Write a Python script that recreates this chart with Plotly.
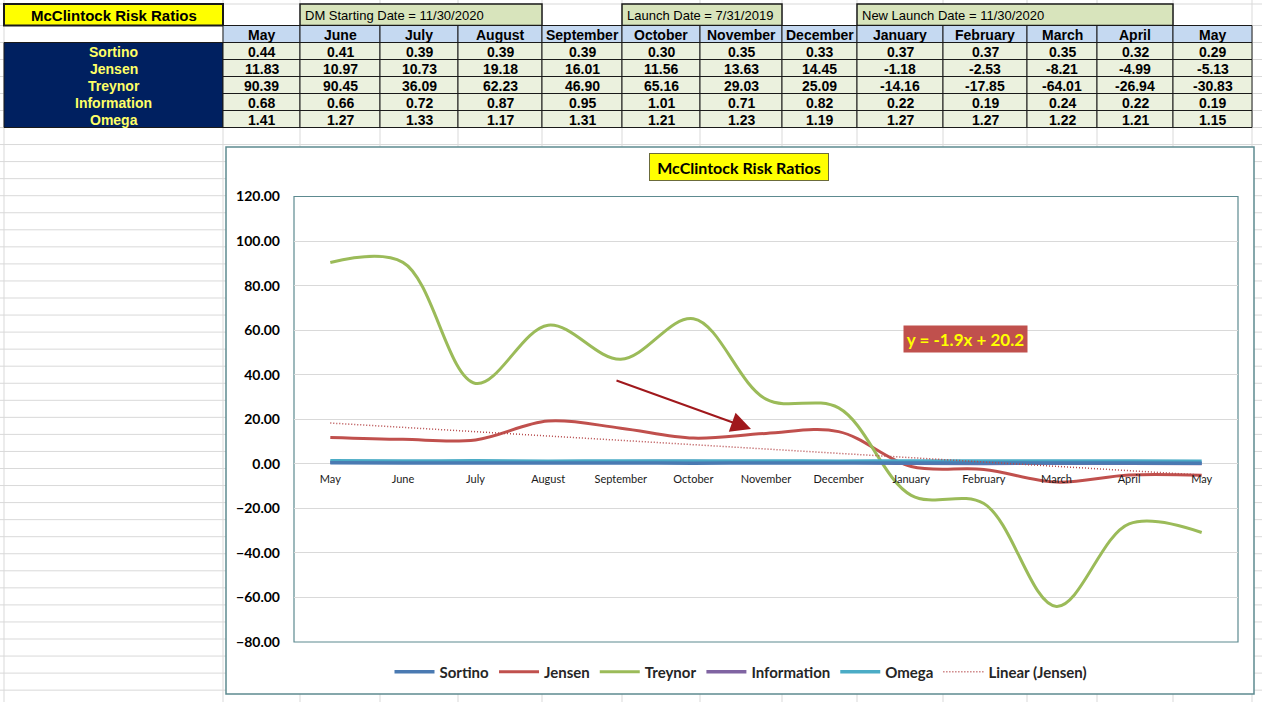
import numpy as np
import plotly.graph_objects as go

# ---- data ----
months = ["May", "June", "July", "August", "September", "October", "November",
          "December", "January", "February", "March", "April", "May"]
sortino = [0.44, 0.41, 0.39, 0.39, 0.39, 0.30, 0.35, 0.33, 0.37, 0.37, 0.35, 0.32, 0.29]
jensen = [11.83, 10.97, 10.73, 19.18, 16.01, 11.56, 13.63, 14.45, -1.18, -2.53, -8.21, -4.99, -5.13]
treynor = [90.39, 90.45, 36.09, 62.23, 46.90, 65.16, 29.03, 25.09, -14.16, -17.85, -64.01, -26.94, -30.83]
information = [0.68, 0.66, 0.72, 0.87, 0.95, 1.01, 0.71, 0.82, 0.22, 0.19, 0.24, 0.22, 0.19]
omega = [1.41, 1.27, 1.33, 1.17, 1.31, 1.21, 1.23, 1.19, 1.27, 1.27, 1.22, 1.21, 1.15]
ratio_names = ["Sortino", "Jensen", "Treynor", "Information", "Omega"]
sheet_title = "McClintock Risk Ratios"
date_notes = ["DM Starting Date = 11/30/2020", "Launch Date = 7/31/2019",
              "New Launch Date = 11/30/2020"]
trend_label = "y = -1.9x + 20.2"

ratio_values = [sortino, jensen, treynor, information, omega]
series_colors = ["#4A7AB2", "#C0504D", "#9BBB59", "#8064A2", "#4BACC6"]
series_widths = [3.5, 3, 3, 3.5, 3.5]
draw_order = [1, 2, 3, 4, 0]   # small ratios end up on top, Sortino last like the sheet

# ---- page geometry (pixels) ----
W, H = 1262, 702
def fx(v):
    return v / W
def fy(v):
    return 1 - v / H

col_edges = [223, 300, 380, 458, 542, 622, 700, 782, 857, 943, 1027, 1097, 1173, 1252]
row_edges = [4, 25.5, 42.5, 59.5, 76.5, 93.5, 110.5, 127.5]
note_spans = [(1, 3), (5, 6), (8, 11)]   # which month columns each date box covers

sheet_font = "Liberation Sans Narrow, Arial Narrow, Liberation Sans, sans-serif"
cal = "Lato, Carlito, Calibri, sans-serif"
grid_col = "#D9D9D9"
frame_col = "#5D8A90"

shapes = []
annotations = []

# spreadsheet gridlines in the background
sheet_rows = row_edges + [127.5 + 17.05 * k for k in range(1, 35)]
for yy in sheet_rows:
    shapes.append(dict(type="line", xref="paper", yref="paper", x0=0, x1=1,
                       y0=fy(yy), y1=fy(yy), line=dict(color=grid_col, width=1), layer="below"))
for xx in [4] + col_edges:
    shapes.append(dict(type="line", xref="paper", yref="paper", x0=fx(xx), x1=fx(xx),
                       y0=0, y1=1, line=dict(color=grid_col, width=1), layer="below"))

def cell(x0, x1, y0, y1, fill, lw=1, lc="#1A1A1A"):
    shapes.append(dict(type="rect", xref="paper", yref="paper", x0=fx(x0), x1=fx(x1),
                       y0=fy(y1), y1=fy(y0), fillcolor=fill,
                       line=dict(color=lc, width=lw), layer="below"))

def text(x, y, s, size, color="#000000", family=sheet_font, bold=True, xanchor="center"):
    annotations.append(dict(x=fx(x), y=fy(y), xref="paper", yref="paper", text=s,
                            showarrow=False, xanchor=xanchor, yanchor="middle",
                            font=dict(family=family, size=size, color=color,
                                      weight="bold" if bold else "normal")))

# title cell
cell(4, col_edges[0], row_edges[0], row_edges[1], "#FFFF00", lw=2)
text((4 + col_edges[0]) / 2, (row_edges[0] + row_edges[1]) / 2 + 1, sheet_title, 15,
     family="Liberation Sans, Arial, sans-serif")

# date boxes
for note, (c0, c1) in zip(date_notes, note_spans):
    cell(col_edges[c0], col_edges[c1 + 1], row_edges[0], row_edges[1], "#D8E4BC", lw=1.5)
    text(col_edges[c0] + 3, (row_edges[0] + row_edges[1]) / 2 + 1, note, 13,
         bold=False, xanchor="left")

# month header row
for i, m in enumerate(months):
    x0, x1 = col_edges[i], col_edges[i + 1]
    cell(x0, x1, row_edges[1], row_edges[2], "#C5D9F1")
    text((x0 + x1) / 2, (row_edges[1] + row_edges[2]) / 2 + 1, m, 14)

# ratio name block
cell(4, col_edges[0], row_edges[2], row_edges[-1], "#002060", lw=1)
for r, (name, vals) in enumerate(zip(ratio_names, ratio_values)):
    y0, y1 = row_edges[r + 2], row_edges[r + 3]
    text((4 + col_edges[0]) / 2, (y0 + y1) / 2 + 1, name, 14, color="#FFFF66")
    for i, v in enumerate(vals):
        x0, x1 = col_edges[i], col_edges[i + 1]
        cell(x0, x1, y0, y1, "#EBF1DE")
        text((x0 + x1) / 2, (y0 + y1) / 2 + 1, f"{v:.2f}", 14)

# chart frame (white card over the sheet)
shapes.append(dict(type="rect", xref="paper", yref="paper", x0=fx(226), x1=fx(1254),
                   y0=fy(694), y1=fy(147), fillcolor="white",
                   line=dict(color=frame_col, width=1.5), layer="below"))
# plot area border
shapes.append(dict(type="rect", xref="x domain", yref="y domain", x0=0, x1=1, y0=0, y1=1,
                   line=dict(color=frame_col, width=1.2), layer="below"))

# chart title
annotations.append(dict(x=fx(739), y=fy(167), xref="paper", yref="paper", text=sheet_title,
                        xanchor="center", yanchor="middle",
                        showarrow=False, bgcolor="#FFFF00", bordercolor="#6B6B3A",
                        borderwidth=1, borderpad=3, width=172, height=20,
                        font=dict(family=cal, size=16, color="#000000", weight="bold")))
# trendline equation box
annotations.append(dict(x=fx(965), y=fy(339), xref="paper", yref="paper", text=trend_label,
                        xanchor="center", yanchor="middle",
                        showarrow=False, bgcolor="#C0504D", borderpad=2, width=119, height=22,
                        font=dict(family=cal, size=17, color="#FFFF00", weight="bold")))
# arrow
annotations.append(dict(x=fx(751), y=fy(429), xref="paper", yref="paper", text="",
                        showarrow=True, ax=-136, ay=-49, arrowhead=2, arrowsize=2,
                        arrowwidth=2, arrowcolor="#A0181C"))

# ---- chart ----
plot_l, plot_r, plot_t, plot_b = 294, 1238, 196.5, 642
y_min, y_max = -80, 120
ydom = [fy(plot_b), fy(plot_t)]
zero_pos = ydom[0] + (0 - y_min) / (y_max - y_min) * (ydom[1] - ydom[0])

x = list(range(len(months)))
fig = go.Figure()
for k in draw_order:
    fig.add_trace(go.Scatter(x=x, y=ratio_values[k], mode="lines", name=ratio_names[k],
                             legendrank=k + 1,
                             line=dict(color=series_colors[k], width=series_widths[k],
                                       shape="spline", smoothing=1)))

# linear trendline of Jensen (Excel numbers x from 1)
xn = np.arange(1, len(months) + 1)
coef = np.polyfit(xn, jensen, 1)
fig.add_trace(go.Scatter(x=x, y=np.polyval(coef, xn), mode="lines", name="Linear (Jensen)",
                         legendrank=6,
                         line=dict(color="#B5484A", width=1.5, dash="1px,2px")))

fig.update_layout(
    width=W, height=H, margin=dict(l=0, r=0, t=0, b=0, autoexpand=False),
    paper_bgcolor="white", plot_bgcolor="rgba(0,0,0,0)",
    shapes=shapes, annotations=annotations,
    showlegend=True,
    legend=dict(orientation="h", x=fx(741), xanchor="center", y=fy(672), yanchor="middle",
                font=dict(family=cal, size=15, color="#262626", weight="bold"),
                bgcolor="rgba(0,0,0,0)", itemwidth=40, traceorder="normal"),
    xaxis=dict(domain=[fx(plot_l), fx(plot_r)], range=[-0.5, len(months) - 0.5],
               anchor="free", position=zero_pos, tickvals=x, ticktext=months,
               showgrid=False, zeroline=False, showline=False, ticks="", automargin=False,
               tickfont=dict(family=cal, size=11, color="#1A1A1A"), ticklabelstandoff=7),
    yaxis=dict(domain=ydom, range=[y_min, y_max], dtick=20, tickformat=".2f",
               showgrid=True, gridcolor="#D9D9D9", gridwidth=1, zeroline=False,
               showline=False, ticks="", ticklabelstandoff=13, automargin=False,
               tickfont=dict(family=cal, size=14, color="#000000", weight="bold")),
)

fig.write_html("out.html", config={"displayModeBar": False},
               post_script="document.body.style.margin='0';document.body.style.overflow='hidden';")
